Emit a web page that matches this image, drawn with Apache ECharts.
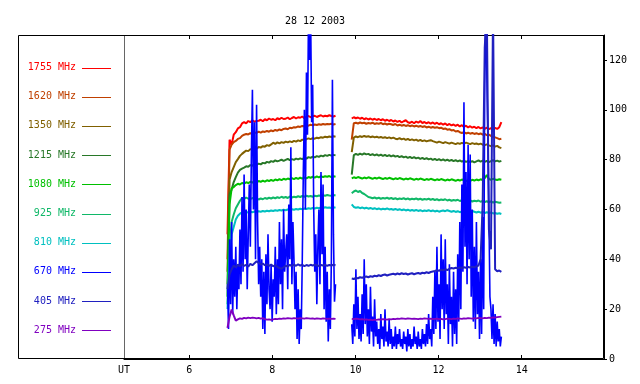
<!DOCTYPE html>
<html><head><meta charset="utf-8">
<script src="https://cdn.jsdelivr.net/npm/echarts@6/dist/echarts.min.js"></script>
<style>html,body{margin:0;padding:0;background:#fff}#c{width:640px;height:384px}</style>
</head><body><div id="c"></div>
<script>
const chartTitle = '28 12 2003';
const freqLabels = ['1755 MHz','1620 MHz','1350 MHz','1215 MHz','1080 MHz','925 MHz','810 MHz','670 MHz','405 MHz','275 MHz'];
const xTickValues = [6, 8, 10, 12, 14];
const xAxisStartLabel = 'UT';
const yTickValues = [0, 20, 40, 60, 80, 100, 120];
// time grids (UT hours)
const preStart = 6.92, postStart = 9.91, gapTime = 9.7, step = 0.05, fineStep = 0.025;

const f1755pre = [50,88,86,90,91,92.5,93,94.5,95,94.5,
95.5,95,95.8,95.2,95.5,95.6,96,95.4,96.2,95.8,
96.5,96,96.3,95.8,96.6,96.2,96.8,96.3,96.4,96.9,
96.2,96.7,97.1,96.5,97,96.8,97.3,96.6,97.2,97.5,
97,97.4,97.6,97.1,97.5,97.8,97.3,97.6,97.4,97.8,
97.5,97.3,97.6];
const f1755post = [96.5,97,96.6,96.9,96.4,96.8,96.2,96.6,96.1,96.5,
96,96.4,95.9,96.3,95.8,96.2,95.6,96,95.5,95.9,
95.3,95.7,95.1,95.6,94.9,95.4,95.8,95,94.7,95.2,
94.6,95.3,94.8,95.5,94.7,95.1,94.5,95,94.4,94.9,
94.3,94.8,94.2,94.6,94,94.5,93.8,94.3,93.7,94.1,
93.5,94,93.3,93.8,93.1,93.6,92.9,93.4,92.8,93.2,
92.6,93.1,92.5,92.9,92.3,92.8,92.2,92.6,92.1,92.7,
92.3,93,95];

const f1620pre = [40,84,86,87,87.5,88.3,88.6,89.5,90,90.3,
90.1,90.6,90.4,90.9,90.7,91.2,90.8,91.3,91.1,91.5,
91.2,91.7,91.4,91.9,91.6,92.1,91.8,92.3,92.5,92.2,
92.8,92.6,93,92.9,93.3,93.1,93.5,93.4,93.8,93.6,
94,93.8,94.1,93.9,94.2,94,94.3,94.1,94.3,94.2,
94.4,94.1,94.3];
const f1620post = [88,94.6,94.8,94.5,94.9,94.6,94.8,94.4,94.7,94.5,
94.8,94.3,94.6,94.4,94.7,94.2,94.5,94.1,94.4,94.2,
93.9,94.3,93.7,94,93.6,93.9,93.5,93.8,93.4,93.7,
93.3,93.6,93.2,93.5,93.1,93.4,92.9,93.2,92.8,93.1,
92.8,93,92.6,92.8,92.3,92.5,92,92.2,91.7,91.9,
91.3,91.5,91,90.7,91,90.5,90.8,90.4,90.7,90.3,
90.6,90.2,90.5,90,90.3,89.8,90,89.5,89.2,88.9,
88.6,88.2,88.4];

const f1350pre = [35,72,75,77,79,80.2,81.5,82.3,83,83.6,
83.4,84.2,84,84.6,84.3,85.1,84.8,85.4,85.2,85.8,
85.5,86.1,86.8,86.3,86.9,86.5,87,86.7,87.2,86.9,
87.3,87,87.5,87.2,87.7,87.4,88,87.7,88.2,88.5,
88.2,88.6,88.4,88.8,88.6,89,88.8,89.2,89,89.3,
89.1,89.4,89.2];
const f1350post = [83,88.8,89.3,89,89.4,89.1,89.5,89.2,89.4,89,
89.3,88.9,89.2,88.8,89.1,88.7,89,88.6,88.9,88.5,
88.8,88.4,88.2,88.6,88.1,88.4,87.9,88.3,87.8,88.1,
87.7,88,87.5,87.9,87.4,87.7,87.3,87.6,87.8,87.4,
87.1,86.8,87.2,86.9,86.6,87,86.7,86.4,86.8,86.5,
86.2,86.6,86.3,86.7,86.4,86.8,86.5,86.2,86.6,86.3,
86.5,86.1,86.4,86,85.8,86.1,85.7,85.4,85.7,85.2,
85.5,84.9,84.6];

const f1215pre = [30,66,68,71,73,74.8,75.9,76.4,76.8,77.3,
77.1,77.8,77.5,78.2,77.9,78.4,78.1,78.7,78.5,79.1,
78.8,79.4,79.1,79.7,79.3,79.6,80,79.5,79.9,80.3,
79.8,80.2,79.9,80.4,80.1,80.5,80.2,80.7,80.4,81,
80.7,81.2,80.9,81.4,81.1,81.6,81.3,81.8,81.5,81.9,
81.6,81.9,81.7];
const f1215post = [74,81.8,82.3,81.9,82.4,82,82.5,82.1,82.3,81.8,
82.2,81.7,82.1,81.6,82,81.5,81.9,81.4,81.8,81.3,
81.7,81.2,81.5,81,81.4,80.9,81.2,80.7,81.1,80.6,
81,80.5,80.8,80.3,80.7,80.2,80.6,80.1,80.4,79.9,
80.3,79.8,80.2,79.7,80.1,79.6,80,79.5,79.9,79.4,
79.8,79.3,79.7,79.2,79.6,79.1,79.5,79,79.4,78.9,
79.3,79.7,79.2,79.6,79.1,79.5,79,79.4,79.8,79.3,
79.6,79.2,79.5];

const f1080pre = [25,62,68.5,69,69.8,70.3,70,70.6,70.4,70.9,
70.6,71.1,70.8,71.3,70.9,71.4,71.1,71.6,71.2,71.7,
71.4,71.9,71.5,72,71.7,72.2,71.8,72.3,72,72.4,
72.1,72.6,72.2,72.7,72.3,72.8,72.4,72.9,72.5,73,
72.7,73.2,72.8,73.3,72.9,73.4,73,73.3,73.1,73.4,
73,73.3,73.1];
const f1080post = [72.5,72.9,72.6,73,72.7,72.4,72.8,72.5,72.9,72.6,
72.3,72.7,72.4,72.8,72.5,72.2,72.6,72.3,72.7,72.4,
72.1,72.5,72.2,72.6,72.3,72,72.4,72.1,72.5,72.2,
71.9,72.3,72,72.4,72.1,71.8,72.2,71.9,72.3,72,
71.7,72.1,71.8,72.2,71.9,71.6,72,71.7,72.1,71.8,
71.5,71.9,71.6,72,71.7,71.4,71.8,71.5,71.9,71.6,
72,71.7,72.1,71.8,72.6,73.8,72.2,71.9,72.3,72,
71.8,72.1,71.9];

const f925pre = [22,45,55,58,60.5,62,63.5,64.6,64.2,64.8,
64.3,64.1,64.6,64.2,64.5,64,64.4,64.1,64.6,64.3,
64.7,64.4,64.8,64.5,64.9,64.6,65.1,64.7,65,64.6,
65.2,64.8,65.1,64.9,65.3,65,65.4,65.1,65.5,65.2,
65.4,65.1,65.5,65.3,65.6,65.4,65.7,65.5,65.8,65.6,
65.5,65.8,65.6];
const f925post = [66.5,67.2,67.6,67,67.4,66.6,66.2,65.6,65,64.8,
64.5,64.8,64.4,64.7,64.3,64.6,64.4,64.7,64.3,64.6,
64.2,64.5,64.1,64.4,64.2,64.5,64.1,64.4,64,64.3,
64.1,64.4,64,64.3,63.9,64.2,64,64.3,63.9,64.2,
63.8,64.1,63.7,64,63.8,64.1,63.6,63.9,63.5,63.8,
63.6,63.9,63.4,63.7,63.5,63.8,63.3,63.6,63.2,63.5,
63.3,63.6,63.1,63.4,63,63.3,62.9,63.2,62.8,63.1,
62.9,62.7,62.8];

const f810pre = [20,40,50,53,56,57.5,58.3,58.8,58.6,59,
58.8,59.1,58.9,59.2,59,59.3,59.1,59.4,59.2,59.5,
59.3,59.6,59.4,59.7,59.5,59.8,59.6,59.9,59.7,60,
59.8,60.1,59.9,60.2,60,60.3,60.1,60.4,60.2,60.5,
60.3,60.6,60.4,60.7,60.5,60.8,60.6,60.9,60.7,60.8,
60.6,60.9,60.7];
const f810post = [62,61,60.7,60.9,60.5,60.8,60.4,60.7,60.3,60.6,
60.2,60.5,60.1,60.4,60,60.3,60.1,60.4,60,60.2,
59.9,60.2,59.8,60.1,59.7,60,59.6,59.9,59.5,59.8,
59.5,59.8,59.4,59.7,59.3,59.6,59.4,59.7,59.3,59.6,
59.2,59.5,59.1,59.4,59.6,59.3,59.7,59.4,59.1,59.4,
59,59.3,58.9,59.2,58.8,59.1,58.7,59,59.4,59.1,
58.8,59.1,58.7,59,58.6,58.9,58.5,58.8,58.4,58.6,
58.3,58.5,58.2];

// 670 MHz sampled on the fine grid
const f670pre = [30,12,48,22,55,18,40,25,
45,20,38,28,52,30,65,35,
74,40,60,28,50,70,45,82,
108,60,95,40,102,55,30,45,
25,40,12,35,10,42,22,50,
28,20,38,15,32,25,45,18,
40,22,55,30,48,20,60,35,
35,50,28,62,40,85,30,55,
40,20,35,8,28,6,20,12,
40,75,100,60,115,90,140,120,
140,95,110,60,35,50,22,45,
60,30,75,42,70,20,45,15,
35,7,28,12,40,112,50,23,30];
const f670post = [14,6,22,9,36,12,25,8,
18,7,26,10,40,14,30,9,
20,6,29,11,17,5,24,9,
15,6,12,4,18,8,13,5,
20,7,11,5,16,6,12,4,
9,5,13,4,10,6,12,5,
8,4,11,6,9,3,12,5,
10,4,8,5,13,6,9,4,
11,5,8,4,12,6,10,5,
14,6,18,8,12,5,25,10,
35,12,45,15,30,8,50,20,
40,12,48,18,30,6,38,14,
25,5,35,10,28,6,42,15,
55,20,70,35,103,45,75,30,
86,40,82,25,60,15,45,12,
55,18,35,8,40,10,57,20,
110,140,140,90,60,25,20,8,
22,6,18,5,15,7,12,5,9];

const f405pre = [28,34,36,37.5,36.8,37.9,37.2,38.1,37.4,37.8,
37.1,38.2,37.6,38.4,39.2,38.5,37.9,38.3,37.6,38,
37.4,37.9,37.2,37.7,37,36.5,36.2,36.8,37.4,37.1,
37.8,37.3,37.9,37.4,38,37.5,37.8,37.3,37.7,37.4,
37.8,37.5,37.9,37.6,37.3,37.7,37.5,37.8,37.4,37.7,
37.5,37.8,37.6];
const f405post = [32.3,32.1,32.5,32.4,32.8,32.6,32.9,33.1,32.8,33.2,
33,33.4,33.2,33.6,33.3,33.7,33.9,33.5,33.8,34,
34.2,33.9,34.3,34,34.4,34.1,34.3,33.9,34.2,34.4,
34,34.3,34.5,34.2,34.6,34.4,34.8,34.5,34.9,35.1,
35.3,35.6,35.4,35.8,35.6,36,35.7,36.2,36.5,36.3,
36.6,36.4,36.7,36.5,36.8,36.6,36.9,36.7,37,36.8,
37.2,37.5,40,62,125,140,52,44,140,36,
35.2,35.5,35];

const f275pre = [12.5,17,19.8,17.5,15.4,15.9,16.3,16.1,16.5,16.3,
16.6,16.4,16.6,16.5,16.3,16.5,16.2,16.4,16,15.8,
15.9,15.7,15.9,16.1,16,16.2,16.1,16.3,16.2,16.4,
16.3,16.2,16.4,16.3,16.2,16.4,16.3,16.2,16.4,16.3,
16.2,16.3,16.1,16.3,16.2,16.1,16.3,16.2,16.1,16.2,
16.1,16.2,16.1];
const f275post = [16.1,16,16.2,16.1,15.9,16,15.8,15.9,15.7,15.8,
15.6,15.8,15.7,15.9,15.8,16,15.9,15.8,16,15.9,
16.1,16,16.2,16.1,16.3,16.2,16.1,16.3,16.2,16.1,
16.2,16.1,16,16.2,16.1,16.3,16.2,16.1,16.2,16,
16.1,16.2,16,16.1,15.9,16,16.2,16.1,16,16.2,
16.1,16.3,16.2,16.1,16.3,16.2,16.4,16.3,16.2,16.4,
16.3,16.5,16.4,16.3,16.5,16.4,16.6,16.5,16.7,16.6,
16.8,16.9,17];

const colors = ['#ff0000','#c04000','#806000','#287828','#00c000','#10b868','#00c0c0','#0000ff','#2020c0','#8000c0'];

function seg(start, st, vals) { return vals.map((v, i) => [start + i * st, v]); }
function build(pre, post, st) { return seg(preStart, st, pre).concat([[gapTime, null]], seg(postStart, st, post)); }

const seriesData = [
  build(f1755pre, f1755post, step),
  build(f1620pre, f1620post, step),
  build(f1350pre, f1350post, step),
  build(f1215pre, f1215post, step),
  build(f1080pre, f1080post, step),
  build(f925pre, f925post, step),
  build(f810pre, f810post, step),
  build(f670pre, f670post, fineStep),
  build(f405pre, f405post, step),
  build(f275pre, f275post, step)
];

const FONT = 'DejaVu Sans Mono';
const xMin = 4.43, xMax = 15.98;

const graphics = [
  { type: 'rect', silent: true, z: 0, shape: { x: 18.5, y: 35.5, width: 585, height: 323 }, style: { fill: 'none', stroke: '#000', lineWidth: 1 } },
  { type: 'line', silent: true, z: 1, shape: { x1: 124.5, y1: 36, x2: 124.5, y2: 358 }, style: { stroke: '#666', lineWidth: 1 } }
];
freqLabels.forEach((lab, i) => {
  const y = 67.5 + i * 29.2;
  graphics.push({ type: 'text', silent: true, style: { text: lab, x: 76, y: y, align: 'right', verticalAlign: 'middle', fill: colors[i], font: '10px "' + FONT + '"' } });
  graphics.push({ type: 'line', silent: true, shape: { x1: 82, y1: Math.round(y) + 0.5, x2: 111, y2: Math.round(y) + 0.5 }, style: { stroke: colors[i], lineWidth: 1 } });
});

const chart = echarts.init(document.getElementById('c'), null, { renderer: 'canvas' });
chart.setOption({
  animation: false,
  backgroundColor: '#fff',
  title: { text: chartTitle, left: 310, top: 11, textAlign: 'center', textStyle: { fontFamily: FONT, fontSize: 10, fontWeight: 'normal', color: '#000' } },
  grid: { left: 124, right: 36, top: 35, bottom: 25, containLabel: false },
  xAxis: [
    { type: 'value', position: 'bottom', min: xMin, max: xMax,
      axisLine: { show: true, lineStyle: { color: '#000', width: 1 } },
      axisTick: { show: true, inside: true, length: 4, customValues: xTickValues, lineStyle: { color: '#000' } },
      axisLabel: { show: true, customValues: [xMin].concat(xTickValues), margin: 6, color: '#000', fontFamily: FONT, fontSize: 10,
        formatter: v => (v < 5 ? xAxisStartLabel : String(Math.round(v))) },
      splitLine: { show: false } },
    { type: 'value', position: 'top', min: xMin, max: xMax,
      axisLine: { show: true, lineStyle: { color: '#000', width: 1 } },
      axisTick: { show: true, inside: true, length: 4, customValues: xTickValues, lineStyle: { color: '#000' } },
      axisLabel: { show: false }, splitLine: { show: false } }
  ],
  yAxis: { type: 'value', position: 'right', min: 0, max: 130,
    axisLine: { show: true, lineStyle: { color: '#000', width: 1 } },
    axisTick: { show: true, inside: false, length: 3, customValues: yTickValues, lineStyle: { color: '#000' } },
    axisLabel: { show: true, customValues: yTickValues, margin: 5, color: '#000', fontFamily: FONT, fontSize: 10 },
    splitLine: { show: false } },
  graphic: graphics,
  series: seriesData.map((d, i) => ({
    type: 'line', name: freqLabels[i], data: d, showSymbol: false, connectNulls: false, clip: true,
    lineStyle: { color: colors[i], width: i === 7 ? 1.6 : 2 }, itemStyle: { color: colors[i] }, z: 2 + i
  }))
});
</script></body></html>
